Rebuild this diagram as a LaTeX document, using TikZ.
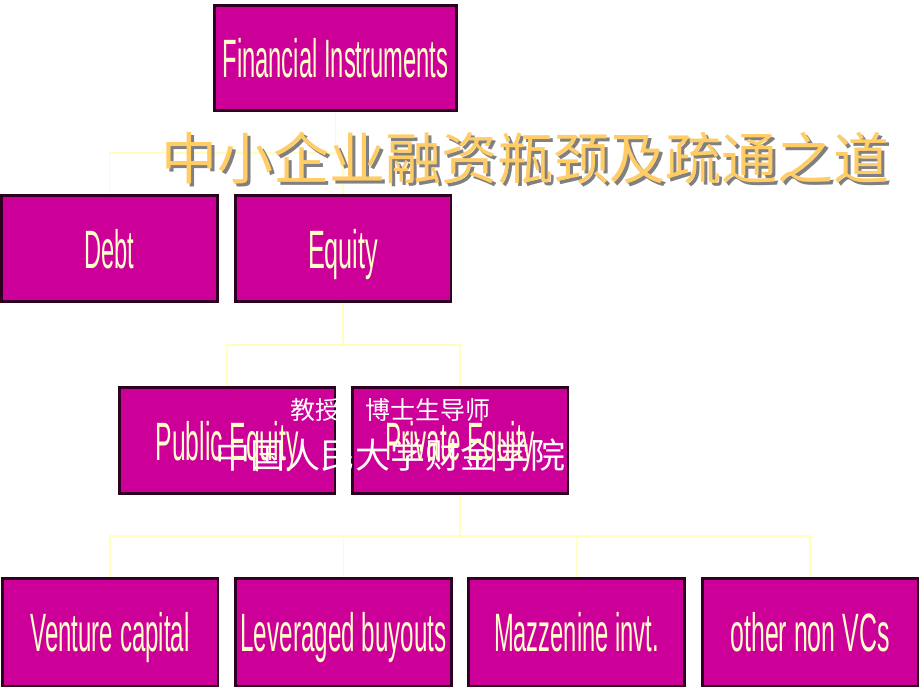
\documentclass[tikz,border=0pt]{standalone}
\usepackage{fontspec}
\usepackage{graphicx}
\newfontfamily\labfont{Liberation Sans}
\newfontfamily\cjkfont{Noto Sans CJK SC}
\definecolor{boxfill}{RGB}{204,0,153}
\definecolor{boxline}{RGB}{45,0,32}
\definecolor{cream}{RGB}{255,255,204}
\definecolor{conncol}{RGB}{255,255,190}
\definecolor{titlecol}{RGB}{255,204,102}
\definecolor{shadowcol}{RGB}{128,128,128}
\newcommand\squeezed[2]{\resizebox{#1pt}{\height}{#2}}
\tikzset{
  box/.style={draw=boxline, fill=boxfill, line width=2.6pt, inner sep=0pt, minimum width=#1},
  box/.default=213pt,
  lab/.style={text=cream, inner sep=0pt, text height=51pt, text depth=12pt,
    font={\labfont\fontsize{54pt}{54pt}\selectfont}},
  conn/.style={draw=conncol, line width=1.6pt},
  cjkwhite/.style={text=white, inner sep=0pt, anchor=west},
}
\begin{document}
\begin{tikzpicture}[x=1pt,y=-1pt]
\useasboundingbox[fill=white] (0,0) rectangle (920,690);
% bus rows
\coordinate (bus1) at (0,153);
\coordinate (bus2) at (0,345);
\coordinate (bus3) at (0,536);
% boxes (position only)
\node[box=239pt, minimum height=102pt] (fi) at (335.5,58) {};
\node[box, minimum height=103pt] (debt) at (109.5,248.5) {};
\node[box, minimum height=103pt] (equity) at (343,248.5) {};
\node[box, minimum height=103pt] (pub) at (227,440.5) {};
\node[box, minimum height=103pt] (priv) at (460,440.5) {};
\node[box, minimum height=105pt] (vc) at (110,632) {};
\node[box, minimum height=105pt] (lbo) at (343.5,632) {};
\node[box, minimum height=105pt] (mez) at (576.5,632) {};
\node[box, minimum height=105pt] (oth) at (810,632) {};
% connectors
\draw[conn] (fi.south) -- (fi.south |- bus1) -| (debt.north);
\draw[conn] (fi.south |- bus1) -| (equity.north);
\draw[conn] (equity.south) -- (equity.south |- bus2) -| (pub.north);
\draw[conn] (equity.south |- bus2) -| (priv.north);
\draw[conn] (priv.south) -- (priv.south |- bus3) -| (vc.north);
\draw[conn] (priv.south |- bus3) -| (lbo.north);
\draw[conn] (priv.south |- bus3) -| (mez.north);
\draw[conn] (priv.south |- bus3) -| (oth.north);
% redraw boxes above connectors
\foreach \n in {fi,debt,equity,pub,priv,vc,lbo,mez,oth}{
  \path[draw=boxline, fill=boxfill, line width=2.6pt] (\n.north west) rectangle (\n.south east);
}
% title with shadow
\node[text=shadowcol, inner sep=0pt, font={\cjkfont\fontsize{56pt}{56pt}\selectfont}] (titleshadow) at (528,161) {中小企业融资瓶颈及疏通之道};
\node[text=titlecol, inner sep=0pt, font={\cjkfont\fontsize{56pt}{56pt}\selectfont}] (title) at (525,158) {中小企业融资瓶颈及疏通之道};
% white Chinese subtitle lines
\node[cjkwhite, font={\cjkfont\fontsize{25pt}{25pt}\selectfont}] (prof) at (290,410) {教授　博士生导师};
\node[cjkwhite, font={\cjkfont\fontsize{35pt}{35pt}\selectfont}] (school) at (215,455) {中国人民大学财金学院};
% box labels
\node[lab] (fi-l) at (fi) {\squeezed{226}{Financial Instruments}};
\node[lab] (debt-l) at (debt) {\squeezed{50}{Debt}};
\node[lab] (equity-l) at (equity) {\squeezed{70}{Equity}};
\node[lab] (pub-l) at (pub) {\squeezed{143}{Public Equity}};
\node[lab] (priv-l) at (priv) {\squeezed{150}{Private Equity}};
\node[lab] (vc-l) at (vc) {\squeezed{159}{Venture capital}};
\node[lab] (lbo-l) at (lbo) {\squeezed{206}{Leveraged buyouts}};
\node[lab] (mez-l) at (mez) {\squeezed{165}{Mazzenine invt.}};
\node[lab] (oth-l) at (oth) {\squeezed{159}{other non VCs}};
\end{tikzpicture}
\end{document}
